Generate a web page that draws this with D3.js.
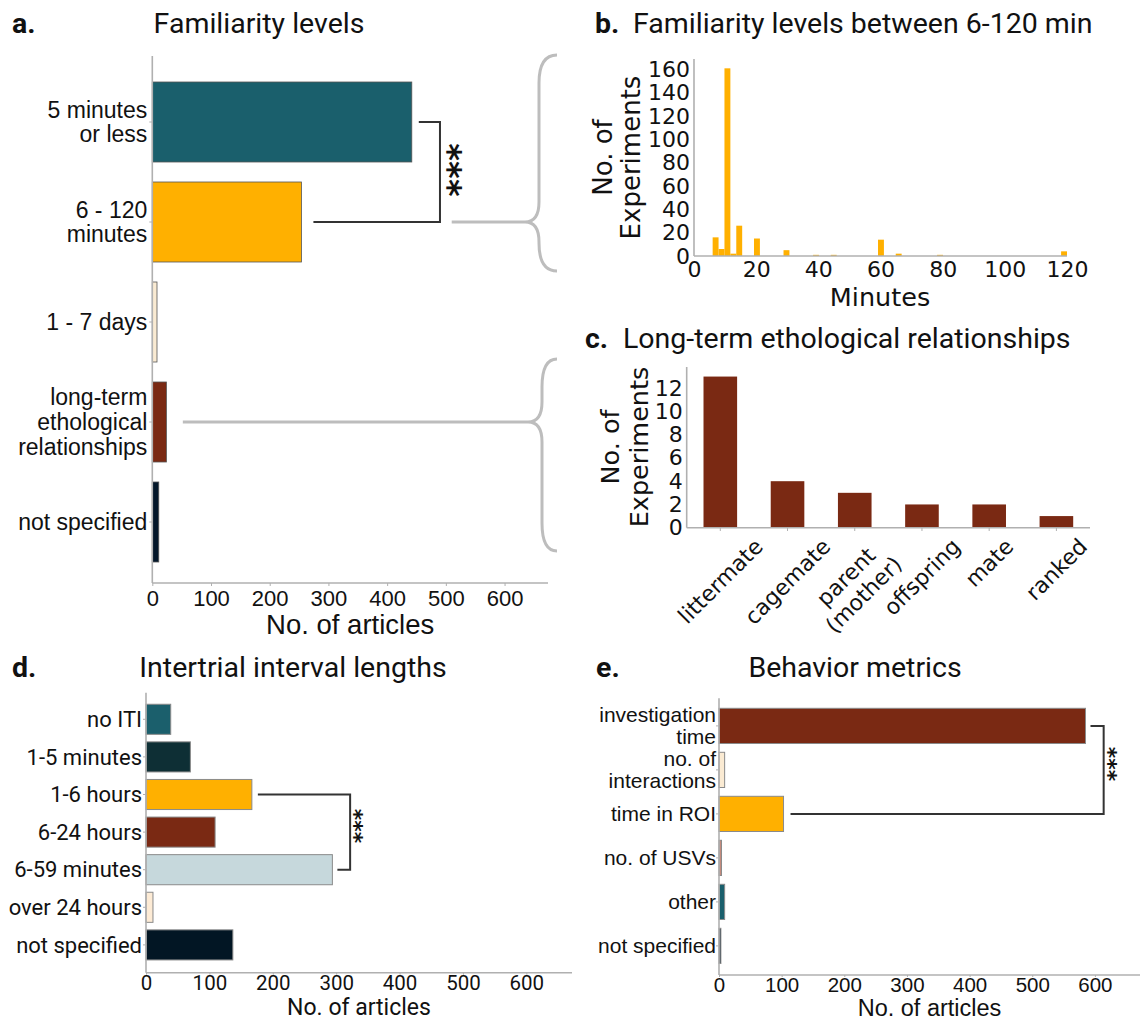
<!DOCTYPE html>
<html><head><meta charset="utf-8">
<script src="https://cdn.jsdelivr.net/npm/d3@7"></script>
<style>html,body{margin:0;padding:0;background:#fff;}svg{display:block;}</style>
</head><body>
<svg id="chart" width="1146" height="1021"></svg>
<script>
// ---------------- DATA ----------------
const famCategories = ["5 minutes\nor less", "6 - 120\nminutes", "1 - 7 days", "long-term\nethological\nrelationships", "not specified"];
const famValues = [442, 254, 8, 24, 11];
const articleTicks = [0, 100, 200, 300, 400, 500, 600];

const histMinutes = [6, 8, 10, 12, 15, 20, 30, 40, 45, 60, 66, 80, 120];
const histCounts  = [16, 6, 161, 2, 26, 15, 5, 1, 1, 14, 2, 1, 4];
const histXTicks = [0, 20, 40, 60, 80, 100, 120];
const histYTicks = [0, 20, 40, 60, 80, 100, 120, 140, 160];

const relCategories = ["littermate", "cagemate", "parent\n(mother)", "offspring", "mate", "ranked"];
const relValues = [13, 4, 3, 2, 2, 1];
const relYTicks = [0, 2, 4, 6, 8, 10, 12];

const itiCategories = ["no ITI", "1-5 minutes", "1-6 hours", "6-24 hours", "6-59 minutes", "over 24 hours", "not specified"];
const itiValues = [39, 70, 167, 109, 294, 11, 137];

const behCategories = ["investigation\ntime", "no. of\ninteractions", "time in ROI", "no. of USVs", "other", "not specified"];
const behValues = [585, 9, 103, 4, 9, 3];

// ---------------- STYLE ----------------
const famColors = ["#1a5f6c", "#ffb000", "#faebd3", "#7a2913", "#03172a"];
const itiColors = ["#1b5f6c", "#0e2f35", "#ffb000", "#7a2913", "#c6d8dc", "#fdebd5", "#021624"];
const behColors = ["#7a2913", "#fbebd3", "#ffb000", "#c48a7c", "#1a5f6c", "#03172a"];
const HIST_COLOR = "#ffb000", REL_COLOR = "#7a2913";
const AX = "#b0b0b0", BRK = "#333", BRACE = "#bdbdbd";
const TITLE_FONT = "Roboto", AF = "Liberation Sans", MF = "DejaVu Sans", DF = "Roboto", EF = "Liberation Sans";
const TS = 28.5;

const svg = d3.select("#chart");

function line(g, x1, y1, x2, y2, col, w) {
  g.append("line").attr("x1", x1).attr("y1", y1).attr("x2", x2).attr("y2", y2)
    .attr("stroke", col || AX).attr("stroke-width", w || 1.6);
}
function txt(g, x, y, s, font, size, anchor, weight) {
  return g.append("text").attr("x", x).attr("y", y).text(s)
    .attr("font-family", font).attr("font-size", size).attr("fill", "#111")
    .attr("text-anchor", anchor || "start").attr("font-weight", weight || "normal");
}
function multiLabel(g, x, y, label, font, size, lh) {
  const lines = label.split("\n");
  const t = g.append("text").attr("font-family", font).attr("font-size", size)
    .attr("fill", "#111").attr("text-anchor", "end");
  lines.forEach((l, k) => {
    t.append("tspan").attr("x", x).attr("y", y + (k - (lines.length - 1) / 2) * lh + 0.35 * size).text(l);
  });
  return t;
}
function styleAxis(sel, font, size) {
  sel.select(".domain").remove();
  sel.selectAll(".tick line").attr("stroke", AX).attr("stroke-width", 1);
  sel.selectAll("text").attr("font-family", font).attr("font-size", size).attr("fill", "#111");
}
function bracket(g, xa, ya, xb, yb, xv) {
  g.append("path").attr("d", `M${xa},${ya}H${xv}V${yb}H${xb}`)
    .attr("fill", "none").attr("stroke", BRK).attr("stroke-width", 2);
}
function stars(g, x, y, size) {
  g.append("text").attr("transform", `translate(${x},${y}) rotate(90)`)
    .attr("text-anchor", "middle").attr("dy", "0.45em").attr("font-weight", "bold")
    .attr("font-family", MF).attr("font-size", size).attr("fill", "#111").text("***");
}
function brace(g, xEnd, xV, xTip, yTop, yTip, yBot) {
  const r = 28, r2 = 20;
  const d = `M${xEnd},${yTop} Q${xV},${yTop} ${xV},${yTop + r} L${xV},${yTip - r2} Q${xV},${yTip} ${xTip},${yTip} ` +
            `Q${xV},${yTip} ${xV},${yTip + r2} L${xV},${yBot - r} Q${xV},${yBot} ${xEnd},${yBot}`;
  g.append("path").attr("d", d).attr("fill", "none").attr("stroke", BRACE).attr("stroke-width", 3);
}
function yLabel2(g, cx, cy, l1, l2, size, gap) {
  const t = g.append("text").attr("transform", `translate(${cx},${cy}) rotate(-90)`)
    .attr("font-family", MF).attr("font-size", size).attr("fill", "#111").attr("text-anchor", "middle");
  t.append("tspan").attr("x", 0).attr("y", -gap / 2 + 0.35 * size).text(l1);
  t.append("tspan").attr("x", 0).attr("y", gap / 2 + 0.35 * size).text(l2);
}

// ---------------- PANEL A ----------------
{
  const g = svg.append("g");
  const x = d3.scaleLinear().domain([0, 674]).range([152.3, 548]);
  const y = d3.scaleBand().domain(famCategories).range([72, 572]).paddingInner(0.2).paddingOuter(0.1);
  const axTop = 56, axBot = 583;
  g.selectAll("rect").data(famCategories).join("rect")
    .attr("x", x(0)).attr("y", d => y(d)).attr("height", y.bandwidth())
    .attr("width", (d, i) => x(famValues[i]) - x(0))
    .attr("fill", (d, i) => famColors[i]).attr("stroke", "#555").attr("stroke-width", 0.8);
  line(g, x(0), axTop, x(0), axBot);
  line(g, x(0), axBot, x.range()[1], axBot);
  const ax = g.append("g").attr("transform", `translate(0,${axBot})`)
    .call(d3.axisBottom(x).tickValues(articleTicks).tickSize(3).tickPadding(4));
  styleAxis(ax, AF, 22);
  famCategories.forEach(c => {
    const cy = y(c) + y.bandwidth() / 2;
    line(g, x(0) - 3, cy, x(0), cy, AX, 1);
    multiLabel(g, x(0) - 5, cy, c, AF, 23, c.split("\n").length > 2 ? 25 : 24);
  });
  txt(g, (x.range()[0] + x.range()[1]) / 2, 634, "No. of articles", AF, 27.5, "middle");
  txt(g, 12, 33, "a.", TITLE_FONT, TS, "start", "bold");
  txt(g, 259, 33, "Familiarity levels", TITLE_FONT, TS, "middle");
  // significance bracket
  const c0 = y(famCategories[0]) + y.bandwidth() / 2, c1 = y(famCategories[1]) + y.bandwidth() / 2;
  bracket(g, x(famValues[0]) + 7, c0, x(famValues[1]) + 12, c1, x(490));
  stars(g, x(490) + 12, (c0 + c1) / 2 - 2, 34);
  // braces and connectors toward panels b and c
  line(g, x(510), c1, 525, c1, BRACE, 3);
  brace(g, 557, 539, 525, 55, c1, 271);
  const c3 = y(famCategories[3]) + y.bandwidth() / 2;
  line(g, x(52), c3, 528, c3, BRACE, 3);
  brace(g, 557, 542, 528, 359, c3, 551);
}

// ---------------- PANEL B ----------------
{
  const g = svg.append("g");
  const x = d3.scaleLinear().domain([0, 120]).range([694, 1067]);
  const y = d3.scaleLinear().domain([0, 169]).range([256, 59]);
  const nb = 60, lo = 6, hi = 120, w = (hi - lo) / nb;
  const bins = histMinutes.map((m, i) => {
    const k = Math.min(nb - 1, Math.floor((m - lo) / w));
    return { x0: lo + k * w, x1: lo + (k + 1) * w, n: histCounts[i] };
  });
  g.selectAll("rect").data(bins).join("rect")
    .attr("x", d => x(d.x0)).attr("width", d => x(d.x1) - x(d.x0))
    .attr("y", d => y(d.n)).attr("height", d => y(0) - y(d.n)).attr("fill", HIST_COLOR);
  line(g, x(0), 59, x(0), 256);
  line(g, x(0), 256, x(120), 256);
  const ax = g.append("g").attr("transform", "translate(0,256)")
    .call(d3.axisBottom(x).tickValues(histXTicks).tickSize(0).tickPadding(5));
  styleAxis(ax, MF, 22);
  const ay = g.append("g").attr("transform", `translate(${x(0)},0)`)
    .call(d3.axisLeft(y).tickValues(histYTicks).tickSize(0).tickPadding(4));
  styleAxis(ay, MF, 22);
  txt(g, 880, 306, "Minutes", MF, 25.5, "middle");
  yLabel2(g, 617, 157.5, "No. of", "Experiments", 26, 28);
  txt(g, 595, 33, "b.", TITLE_FONT, TS, "start", "bold");
  txt(g, 633, 33, "Familiarity levels between 6-120 min", TITLE_FONT, TS, "start");
}

// ---------------- PANEL C ----------------
{
  const g = svg.append("g");
  const x = d3.scaleBand().domain(relCategories).range([686.7, 1090]).paddingInner(0.5).paddingOuter(0.25);
  const y = d3.scaleLinear().domain([0, 13.65]).range([527.7, 369]);
  g.selectAll("rect").data(relCategories).join("rect")
    .attr("x", d => x(d)).attr("width", x.bandwidth())
    .attr("y", (d, i) => y(relValues[i])).attr("height", (d, i) => y(0) - y(relValues[i]))
    .attr("fill", REL_COLOR);
  line(g, 686.7, 367, 686.7, 527.7);
  line(g, 686.7, 527.7, 1090, 527.7);
  const ay = g.append("g").attr("transform", "translate(686.7,0)")
    .call(d3.axisLeft(y).tickValues(relYTicks).tickSize(0).tickPadding(4));
  styleAxis(ay, MF, 22);
  const fs = 22, lh = 25;
  relCategories.forEach(c => {
    const cx = x(c) + x.bandwidth() / 2;
    line(g, cx, 527.7, cx, 531, AX, 1);
    const lines = c.split("\n");
    const t = g.append("text").attr("font-family", MF).attr("font-size", fs).attr("fill", "#111")
      .attr("text-anchor", "middle");
    lines.forEach((l, k) => t.append("tspan").attr("x", 0)
      .attr("y", (k - (lines.length - 1) / 2) * lh + 0.35 * fs).text(l));
    const wmax = d3.max(t.selectAll("tspan").nodes(), n => n.getComputedTextLength());
    const H = (wmax + lines.length * lh) * Math.SQRT1_2;
    t.attr("transform", `translate(${cx},${527.7 + 6 + H / 2}) rotate(-45)`);
  });
  yLabel2(g, 625, 447, "No. of", "Experiments", 25.5, 29);
  txt(g, 585, 348, "c.", TITLE_FONT, TS, "start", "bold");
  txt(g, 623, 348, "Long-term ethological relationships", TITLE_FONT, TS, "start");
}

// ---------------- PANEL D ----------------
{
  const g = svg.append("g");
  const x = d3.scaleLinear().domain([0, 672]).range([146, 572]);
  const y = d3.scaleBand().domain(itiCategories).range([700.5, 963.7]).paddingInner(0.2).paddingOuter(0.1);
  const axTop = 692.7, axBot = 972.7;
  g.selectAll("rect").data(itiCategories).join("rect")
    .attr("x", x(0)).attr("y", d => y(d)).attr("height", y.bandwidth())
    .attr("width", (d, i) => x(itiValues[i]) - x(0))
    .attr("fill", (d, i) => itiColors[i]).attr("stroke", "#8a8a8a").attr("stroke-width", 1);
  line(g, x(0), axTop, x(0), axBot);
  line(g, x(0), axBot, x.range()[1], axBot);
  const ax = g.append("g").attr("transform", `translate(0,${axBot})`)
    .call(d3.axisBottom(x).tickValues(articleTicks).tickSize(2).tickPadding(0.5));
  styleAxis(ax, DF, 20.5);
  itiCategories.forEach(c => {
    const cy = y(c) + y.bandwidth() / 2;
    line(g, x(0) - 3, cy, x(0), cy, AX, 1);
    multiLabel(g, x(0) - 4, cy, c, DF, 22, 22);
  });
  txt(g, (x.range()[0] + x.range()[1]) / 2, 1014.5, "No. of articles", DF, 23, "middle");
  txt(g, 12, 677, "d.", TITLE_FONT, TS, "start", "bold");
  txt(g, 293, 677, "Intertrial interval lengths", TITLE_FONT, TS, "middle");
  const c2 = y(itiCategories[2]) + y.bandwidth() / 2, c4 = y(itiCategories[4]) + y.bandwidth() / 2;
  bracket(g, x(itiValues[2]) + 6, c2, x(itiValues[4]) + 5, c4, x(322));
  stars(g, x(322) + 7, (c2 + c4) / 2 - 6, 22);
}

// ---------------- PANEL E ----------------
{
  const g = svg.append("g");
  const x = d3.scaleLinear().domain([0, 672]).range([719, 1140]);
  const y = d3.scaleBand().domain(behCategories).range([703.9, 967.9]).paddingInner(0.2).paddingOuter(0.1);
  const axTop = 698.3, axBot = 975;
  g.selectAll("rect").data(behCategories).join("rect")
    .attr("x", x(0)).attr("y", d => y(d)).attr("height", y.bandwidth())
    .attr("width", (d, i) => x(behValues[i]) - x(0))
    .attr("fill", (d, i) => behColors[i]).attr("stroke", "#8a8a8a").attr("stroke-width", 1);
  line(g, x(0), axTop, x(0), axBot);
  line(g, x(0), axBot, x.range()[1], axBot);
  const ax = g.append("g").attr("transform", `translate(0,${axBot})`)
    .call(d3.axisBottom(x).tickValues(articleTicks).tickSize(2).tickPadding(0.5));
  styleAxis(ax, EF, 20.5);
  behCategories.forEach(c => {
    const cy = y(c) + y.bandwidth() / 2;
    line(g, x(0) - 3, cy, x(0), cy, AX, 1);
    multiLabel(g, x(0) - 3, cy, c, EF, 21, 22);
  });
  txt(g, (x.range()[0] + x.range()[1]) / 2, 1015.5, "No. of articles", EF, 23.5, "middle");
  txt(g, 596, 677, "e.", TITLE_FONT, TS, "start", "bold");
  txt(g, 855, 677, "Behavior metrics", TITLE_FONT, TS, "middle");
  const c0 = y(behCategories[0]) + y.bandwidth() / 2, c2 = y(behCategories[2]) + y.bandwidth() / 2;
  bracket(g, x(behValues[0]) + 5, c0, x(behValues[2]) + 7, c2, x(614));
  stars(g, x(614) + 7, (c0 + c2) / 2 - 6, 22);
}
</script>
</body></html>
